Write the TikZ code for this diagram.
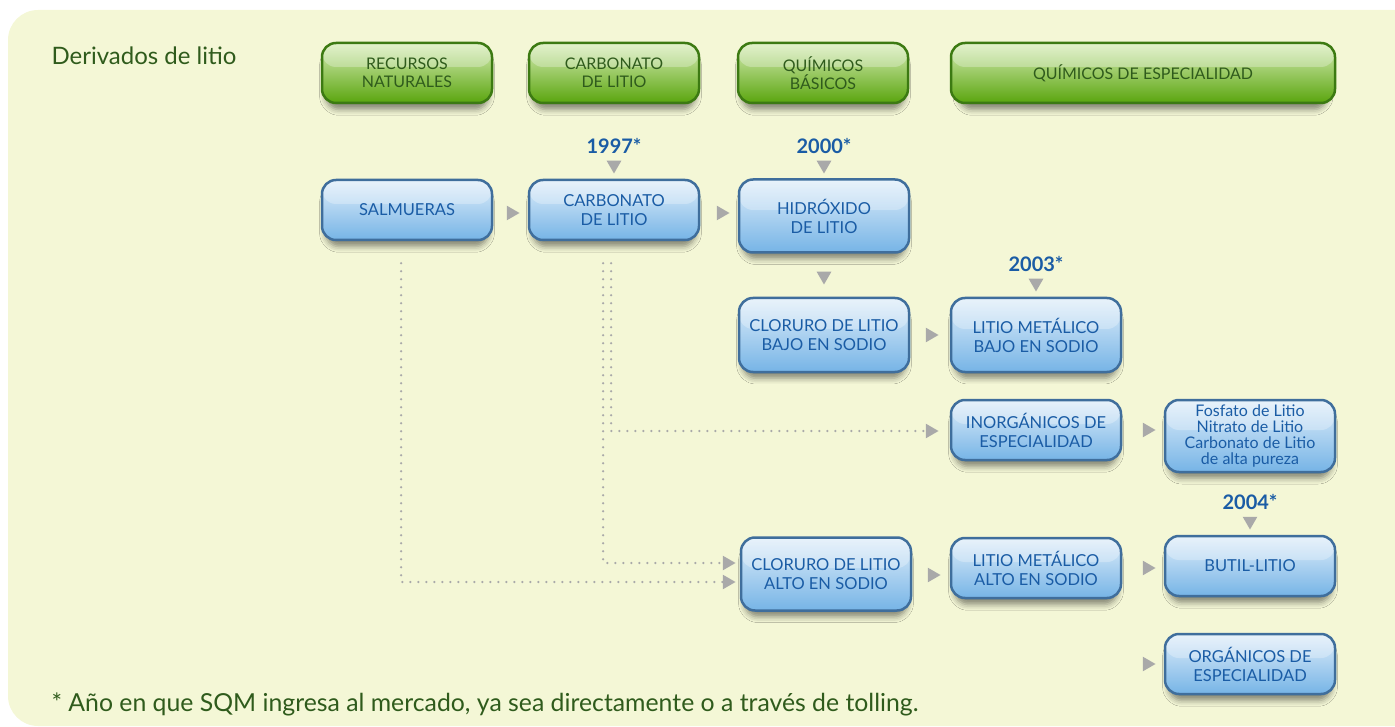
\documentclass[tikz,border=0pt]{standalone}
\usepackage{fontspec}
\setmainfont{Lato}
\usetikzlibrary{shapes.geometric, positioning, shadows.blur}

\definecolor{bgyellow}{HTML}{F4F7D6}
\definecolor{lightblue}{HTML}{E0EEFA}
\definecolor{boxblue}{HTML}{86C0EC}
\definecolor{lowblue}{HTML}{76B4E6}
\definecolor{edgeblue}{HTML}{3F6E9C}
\definecolor{textblue}{HTML}{1A5CA5}
\definecolor{lightgreen}{HTML}{D8EDB8}
\definecolor{boxgreen}{HTML}{7FC030}
\definecolor{lowgreen}{HTML}{5AA50E}
\definecolor{edgegreen}{HTML}{3C7A12}
\definecolor{textgreen}{HTML}{2F5B1C}
\definecolor{tipgray}{HTML}{A9A9A9}

\tikzstyle{product} = [rectangle, rounded corners=14pt, minimum width=170pt, minimum height=60pt, align=center, draw=edgeblue, line width=2.5pt, top color=lightblue, middle color=boxblue, bottom color=lowblue, text=textblue, font=\fontsize{16.5}{19}\selectfont, blur shadow={shadow xshift=0pt, shadow yshift=-8pt, shadow blur radius=6pt, shadow scale=0.96, shadow opacity=45}, path picture={\fill[white, opacity=0.28] (path picture bounding box.north west) rectangle ([yshift=6pt]path picture bounding box.east);}]
\tikzstyle{stage} = [product, draw=edgegreen, top color=lightgreen, middle color=boxgreen, bottom color=lowgreen, text=textgreen, font=\fontsize{16}{18.5}\selectfont]
\tikzstyle{year} = [text=textblue, font=\fontsize{20}{24}\selectfont\bfseries]
\tikzstyle{tipright} = [regular polygon, regular polygon sides=3, shape border rotate=-90, fill=tipgray, inner sep=0pt, minimum size=17pt]
\tikzstyle{tipdown} = [tipright, shape border rotate=180]
\tikzstyle{dots} = [draw=tipgray, line width=2.5pt, line cap=round, dash pattern=on 0pt off 8pt]

\begin{document}
\begin{tikzpicture}[x=1pt, y=-1pt]

\useasboundingbox (0,0) rectangle (1395,727);
\fill[bgyellow, rounded corners=30pt] (8,10) rectangle (1440,726);

\node [text=textgreen, font=\fontsize{24}{28}\selectfont, anchor=west] (title) at (48,56) {Derivados de litio};

% etapas
\node [stage] (recursos) at (407,73) {RECURSOS\\NATURALES};
\node [stage] (carbonato) at (614,73) {CARBONATO\\DE LITIO};
\node [stage] (basicos) at (823,73) {QUÍMICOS\\BÁSICOS};
\node [stage, minimum width=384pt] (especial) at (1143,73) {QUÍMICOS DE ESPECIALIDAD};

% productos
\node [product] (salmueras) at (407,210) {SALMUERAS};
\node [product] (carblitio) at (614,210) {CARBONATO\\DE LITIO};
\node [product, minimum height=73pt] (hidroxido) at (824,216) {HIDRÓXIDO\\DE LITIO};
\node [product, minimum height=74pt] (clorbajo) at (824,335) {CLORURO DE LITIO\\BAJO EN SODIO};
\node [product, minimum height=74pt] (metbajo) at (1036,335) {LITIO METÁLICO\\BAJO EN SODIO};
\node [product] (inorg) at (1036,430) {INORGÁNICOS DE\\ESPECIALIDAD};
\node [product, minimum height=72pt, font=\fontsize{16}{16}\selectfont] (fosfato) at (1250,436) {Fosfato de Litio\\Nitrato de Litio\\Carbonato de Litio\\de alta pureza};
\node [product, minimum height=73pt] (cloralto) at (826,574) {CLORURO DE LITIO\\ALTO EN SODIO};
\node [product] (metalto) at (1036,568) {LITIO METÁLICO\\ALTO EN SODIO};
\node [product] (butil) at (1250,566) {BUTIL-LITIO};
\node [product] (organ) at (1250,664) {ORGÁNICOS DE\\ESPECIALIDAD};

% años
\node [year] (y1997) at (614,146) {1997*};
\node [year] (y2000) at (824,146) {2000*};
\node [year] (y2003) at (1036,264) {2003*};
\node [year] (y2004) at (1250,502) {2004*};
\node [tipdown] (t1997) at (614,165) {};
\node [tipdown] (t2000) at (824,165) {};
\node [tipdown] (t2003) at (1036,283) {};
\node [tipdown] (t2004) at (1250,521) {};
\node [tipdown] (thidro) at (824,276) {};

% flechas
\node [tipright] (tsalm) at (511,213) {};
\node [tipright] (tcarb) at (721,213) {};
\node [tipright] (tbajo) at (930,335) {};
\node [tipright] (tinorg) at (930,431) {};
\node [tipright] (tfosf) at (1147,430) {};
\node [tipright] (taltoA) at (727,563) {};
\node [tipright] (taltoB) at (727,582) {};
\node [tipright] (tmet) at (932,575) {};
\node [tipright] (tbutil) at (1147,568) {};
\node [tipright] (torgan) at (1147,664) {};

% lineas punteadas
\coordinate (salmdot) at ([xshift=-6pt, yshift=-22pt]salmueras.south);
\coordinate (carbdotA) at ([xshift=-11pt, yshift=-22pt]carblitio.south);
\coordinate (carbdotB) at ([xshift=-3pt, yshift=-22pt]carblitio.south);
\draw [dots] (salmdot) |- (taltoB.west);
\draw [dots] (carbdotA) |- (taltoA.west);
\draw [dots] (carbdotB) |- (tinorg.west);

\node [text=textgreen, font=\fontsize{24.8}{29}\selectfont, anchor=west] (nota) at (48,704) {* Año en que SQM ingresa al mercado, ya sea directamente o a través de tolling.};

\end{tikzpicture}
\end{document}
